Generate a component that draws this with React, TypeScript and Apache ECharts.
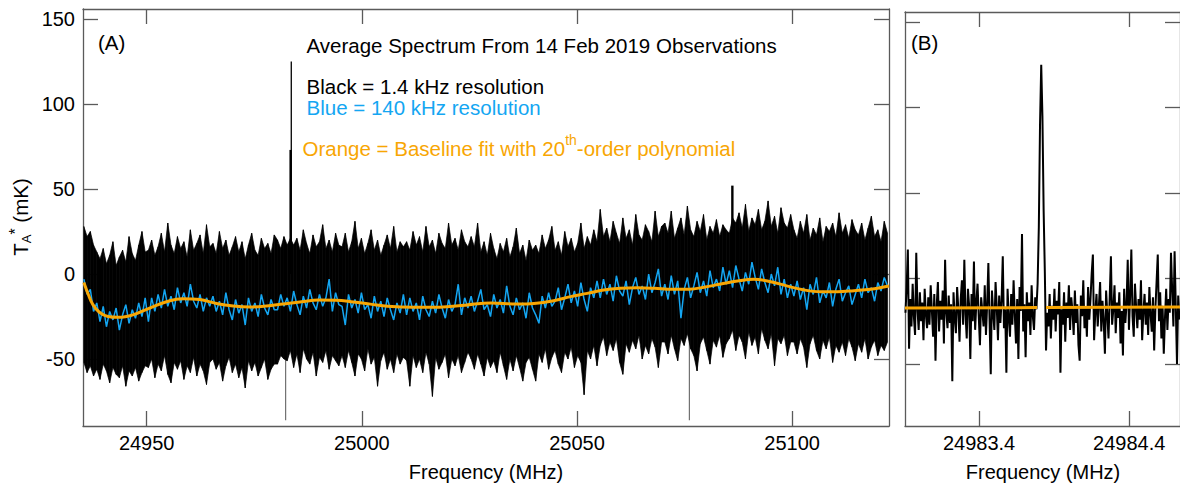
import React, { useEffect, useRef } from 'react';
import * as echarts from 'echarts';

const FONT = "'Liberation Sans', Arial, Helvetica, sans-serif";
const BLUE = '#14a6f2';
const ORANGE = '#f8a603';
const FRAME = '#5a5a5a';

// ---- Panel A: frequency grid of the binned spectrum (MHz)
const gridStart = 24935.4;
const gridStep = 0.75;

// Black (1.4 kHz) spectrum: max / min per bin (mK), noise only
const blackHigh = [
  28, 22, 25, 17, 13, 9, 15, 6, 11, 19, 5, 10, 14, 7, 22, 12, 8, 17, 25, 13,
  14, 20, 11, 16, 24, 13, 30, 17, 12, 22, 15, 19, 10, 26, 14, 18, 23, 12, 29, 16,
  18, 12, 25, 15, 20, 11, 16, 22, 13, 19, 9, 17, 24, 14, 11, 21, 15, 18, 12, 23,
  20, 15, 22, 17, 21, 17, 21, 14, 26, 18, 12, 23, 16, 19, 29, 15, 20, 13, 24, 17,
  16, 24, 13, 19, 31, 15, 21, 12, 18, 26, 14, 20, 11, 17, 23, 15, 28, 13, 19, 16,
  19, 14, 25, 17, 22, 13, 28, 16, 20, 12, 24, 18, 15, 30, 17, 21, 14, 26, 19, 16,
  22, 16, 30, 13, 19, 11, 24, 15, 9, 18, 13, 21, 10, 16, 27, 12, 17, 8, 20, 14,
  17, 12, 23, 15, 20, 28, 14, 19, 11, 25, 16, 21, 13, 18, 30, 15, 22, 17, 26, 19,
  38, 22, 27, 19, 31, 24, 18, 33, 21, 26, 17, 35, 23, 20, 29, 25, 19, 37, 22, 28,
  30, 24, 37, 21, 27, 33, 23, 40, 26, 22, 31, 25, 35, 20, 28, 24, 32, 22, 29, 26,
  24, 33, 30, 36, 27, 41, 25, 33, 29, 38, 26, 31, 43, 28, 34, 24, 39, 30, 27, 35,
  26, 21, 31, 24, 35, 20, 27, 23, 33, 19, 28, 25, 30, 22, 36, 24, 29, 21, 32, 26,
  23, 30, 20, 27, 34, 22, 26, 19, 31, 24,
];
const blackLow = [
  -52, -58, -54, -60, -56, -62, -53, -57, -64, -55, -59, -61, -54, -66, -57, -60, -55, -63, -58, -54,
  -55, -50, -61, -53, -57, -48, -59, -64, -52, -56, -51, -62, -54, -58, -49, -60, -53, -57, -65, -52,
  -50, -56, -52, -63, -54, -49, -58, -53, -61, -55, -67, -51, -57, -52, -60, -55, -50, -62, -56, -53,
  -53, -48, -50, -51, -45, -55, -47, -58, -44, -50, -53, -46, -60, -49, -52, -45, -56, -48, -51, -54,
  -48, -55, -45, -52, -60, -47, -50, -57, -44, -53, -49, -66, -51, -46, -56, -50, -58, -47, -53, -49,
  -51, -66, -48, -55, -50, -58, -46, -53, -72, -49, -56, -52, -47, -61, -50, -54, -48, -58, -52, -46,
  -50, -56, -47, -53, -60, -49, -55, -51, -58, -46, -54, -62, -50, -57, -48, -55, -63, -52, -49, -56,
  -63, -47, -52, -44, -56, -49, -45, -53, -58, -46, -50, -43, -55, -48, -52, -71, -45, -50, -42, -54,
  -42, -37, -48, -40, -45, -38, -52, -59, -41, -46, -39, -44, -36, -50, -42, -47, -38, -43, -55, -40,
  -40, -47, -36, -44, -51, -38, -42, -35, -44, -48, -57, -41, -37, -45, -53, -39, -43, -36, -49, -41,
  -38, -33, -45, -36, -40, -50, -34, -42, -37, -47, -32, -39, -44, -35, -54, -38, -41, -36, -48, -40,
  -40, -47, -38, -43, -55, -41, -36, -45, -50, -39, -44, -37, -52, -42, -46, -40, -48, -38, -43, -51,
  -41, -46, -38, -50, -43, -39, -48, -42, -45, -40,
];
// Single-channel features of the black spectrum (MHz, mK)
const spikeFreq = [24982.3, 24983.45, 24983.6, 25076.1, 25086.1];
const spikeVal = [-86, 73, 125, -86, 52];

// Blue (140 kHz) spectrum (mK)
const blue140k = [
  -3, -12, -9, -22, -17, -28, -19, -31, -22, -27, -20, -33, -24, -18, -29, -21, -26, -17, -25, -14,
  -28, -14, -22, -12, -20, -9, -19, -13, -21, -8, -17, -11, -19, -6, -16, -20, -12, -22, -14, -19,
  -13, -22, -16, -24, -11, -21, -27, -15, -23, -18, -30, -14, -22, -17, -25, -12, -20, -24, -15, -21,
  -21, -12, -19, -14, -22, -10, -18, -24, -13, -20, -9, -17, -21, -12, -19, -14, -3, -22, -11, -18,
  -19, -30, -12, -20, -15, -23, -11, -21, -18, -26, -13, -22, -16, -25, -14, -21, -27, -17, -23, -12,
  -24, -14, -22, -17, -27, -13, -21, -25, -16, -23, -12, -20, -26, -15, -22, -18, -6, -24, -14, -20,
  -13, -22, -16, -9, -21, -18, -25, -12, -20, -15, -23, -7, -19, -24, -14, -21, -17, -26, -11, -20,
  -24, -29, -13, -20, -11, -19, -16, -8, -21, -14, -6, -17, -10, -19, -5, -15, -22, -8, -14, -4,
  -14, -3, -12, -6, -16, -1, -10, -13, -4, -18, -8, -2, -12, -7, -15, 0, -11, -5, 3, -13,
  -6, -15, -1, -12, -4, -26, -9, -2, -14, -7, 1, -11, -4, -13, 2, -8, -3, -10, 4, -6,
  2, -8, 5, -3, -10, 1, -6, 7, -2, -9, 3, -5, -11, 0, -7, 4, -12, -3, -14, -6,
  -13, -4, -15, -8, -21, -6, -12, -2, -17, -10, -14, -5, -19, -9, -3, -16, -11, -7, -18, -12,
  -6, -14, -3, -11, -8, -16, -5, -10, -2, -7,
];
// Orange baseline fit (20th-order polynomial)
const orangeFreq = [
  24935.4, 24936.5, 24937.5, 24939.0, 24941.0, 24943.5, 24946.8, 24950.7, 24954.6, 24958.4,
  24962.3, 24966.2, 24970.1, 24973.9, 24977.8, 24981.7, 24986, 24990, 24994, 24998,
  25002, 25006, 25012, 25018, 25024, 25030, 25036, 25040, 25044.6, 25048.5,
  25052.4, 25056.2, 25060.1, 25064, 25068, 25072, 25076, 25079.5, 25083.4, 25087.3,
  25091.1, 25095, 25098.9, 25102.8, 25106.6, 25110.5, 25114.4, 25118.2, 25122.5,
];
const orangeVal = [
  -5, -12.5, -18, -22.5, -25, -25.5, -24, -20, -16.3, -14.5,
  -15, -17.3, -18.8, -19.4, -18.8, -17.6, -16.3, -15.3, -15.4, -16.4,
  -17.7, -19, -19.6, -19.5, -18.3, -17, -17.6, -17.3, -15.7, -13.3,
  -11.4, -9.4, -8.4, -8.1, -8.4, -9, -8.9, -7.8, -5.9, -4.1,
  -3.1, -4.5, -7.1, -9.4, -10.4, -10.4, -9.8, -9, -7,
];

// ---- Panel B: zoom on the line (1.4 kHz channels)
const bStart = 24982.91;
const bStep = 0.008;
const bBlack = [
  -20, -5, 17, -41, -12, -28, -3, -22, -33, 15, -18, -30, -8, -25, -14, -36, -6, -21, -29, -11,
  -27, -4, -19, -34, -9, -48, -16, -2, -31, -13, -24, -7, -38, 11, -20, -29, -10, -26, -15, -60,
  -8, -23, -32, -5, -18, -37, -12, -1, -27, 11, -21, -35, -6, -16, -47, -9, -25, 10, -30, -14,
  -3, -22, -39, -11, -19, -28, -4, -33, -15, 9, -24, -56, -7, -20, -30, -2, -17, -36, -10, -26,
  -13, 13, -29, -18, -55, -6, -23, -34, -9, -27, -1, -21, -38, -12, -47, -5, -19, 26, -31, -15,
  -46, -8, -25, -14, -33, -4, -22, -30, -11, -18, -3, 30, 90, 125, 95, 40, 4, -42, -20, -28,
  -9, -35, -16, -24, -6, -31, -13, -21, -2, -55, -18, -27, -8, -37, -14, -23, -4, -30, -11, -19,
  -33, -7, -26, -15, -39, -48, -10, -22, -1, -29, -17, -34, -5, -24, -12, 3, 14, -36, -20, -9,
  -28, -16, -2, -31, -13, -25, -44, -7, -21, -35, -11, 13, -27, -18, -4, -32, -14, -23, -8, -38,
  -19, -45, -6, -26, -15, 11, -30, -10, 17, -22, -34, -3, -17, -29, -12, -24, -1, -36, -20, -9,
  -27, -14, -33, -5, -21, -31, -11, -42, -18, -2, 14, -25, -8, -35, -16, -44, -23, -6, -30, -12,
  -20, 15, -7, -28, 16, -17, -50, -10, -24,
];
const bOrangeFreq = [24982.907, 24983.787, 24983.815, 24983.846, 24984.74];
const bOrangeVal: (number | string)[] = [-17.2, -17.0, '-', -16.9, -16.6];

// ---- Axis ticks
const aTicksX = [24950, 25000, 25050, 25100];
const bTicksX = [24983.4, 24984.4];
const ticksY = [-50, 0, 50, 100, 150];

const A_X = [24935.2, 25122.5];
const A_Y = [-89.4, 155.9];
const B_X = [24982.907, 24984.738];
const B_Y = [-86.2, 155.8];

function mkX(gridIndex: number, ext: number[], ticks: number[], position: string, labels: boolean) {
  return {
    type: 'value', gridIndex, position, min: ext[0], max: ext[1],
    axisLine: { show: true, onZero: false, lineStyle: { color: FRAME, width: 1.3 } },
    axisTick: { show: true, inside: true, length: 15, customValues: ticks, lineStyle: { color: FRAME, width: 1.3 } },
    axisLabel: {
      show: labels, customValues: ticks, formatter: (v: number) => String(v),
      fontSize: 20, fontFamily: FONT, color: '#000', margin: 7,
    },
    splitLine: { show: false },
  };
}
function mkY(gridIndex: number, ext: number[], position: string, labels: boolean) {
  return {
    type: 'value', gridIndex, position, min: ext[0], max: ext[1],
    axisLine: { show: true, onZero: false, lineStyle: { color: FRAME, width: 1.3 } },
    axisTick: { show: true, inside: true, length: 15, customValues: ticksY, lineStyle: { color: FRAME, width: 1.3 } },
    axisLabel: {
      show: labels, customValues: ticksY, formatter: (v: number) => String(v),
      fontSize: 20, fontFamily: FONT, color: '#000', margin: 8,
    },
    splitLine: { show: false },
  };
}

export default function App() {
  const ref = useRef<HTMLDivElement>(null);
  useEffect(() => {
    if (!ref.current) return;
    const chart = echarts.init(ref.current, undefined, { renderer: 'svg' });

    // band segments between consecutive bins: [f_i, hi_i, lo_i, f_i+1, hi_i+1, lo_i+1]
    const bandItems = blackHigh.slice(0, -1).map((h, i) => [
      gridStart + i * gridStep, h, blackLow[i],
      gridStart + (i + 1) * gridStep, blackHigh[i + 1], blackLow[i + 1],
    ]);
    const spikeItems = spikeFreq.map((f, i) => [f, spikeVal[i]]);
    const blueData = blue140k.map((v, i) => [gridStart + i * gridStep, v]);
    const orangeData = orangeFreq.map((f, i) => [f, orangeVal[i]]);
    const bBlackData = bBlack.map((v, i) => [bStart + i * bStep, v]);
    const bOrangeData = bOrangeFreq.map((f, i) => [f, bOrangeVal[i]]);

    const annot = (x: number, y: number, text: string, fill = '#000') => ({
      type: 'text', x, y, silent: true,
      style: { text, fill, fontSize: 20.5, lineHeight: 19, fontFamily: FONT, align: 'left', verticalAlign: 'middle' },
    });

    chart.setOption({
      animation: false,
      backgroundColor: '#fff',
      grid: [
        { left: 83, top: 9, width: 806, height: 417 },
        { left: 905, top: 12, width: 276, height: 414 },
      ],
      xAxis: [
        mkX(0, A_X, aTicksX, 'bottom', true),
        mkX(0, A_X, aTicksX, 'top', false),
        mkX(1, B_X, bTicksX, 'bottom', true),
        mkX(1, B_X, bTicksX, 'top', false),
      ],
      yAxis: [
        mkY(0, A_Y, 'left', true),
        mkY(0, A_Y, 'right', false),
        mkY(1, B_Y, 'left', false),
        mkY(1, B_Y, 'right', false),
      ],
      series: [
        {
          type: 'custom', xAxisIndex: 0, yAxisIndex: 0, data: spikeItems, silent: true, clip: true,
          encode: { x: 0, y: 1 },
          renderItem: (params: any, api: any) => {
            const v = api.value(1);
            const tip = api.coord([api.value(0), v]);
            const base = api.coord([api.value(0), 0]);
            const w = v < 0 ? 1 : v > 100 ? 1.3 : 2.4;
            return {
              type: 'rect',
              shape: { x: tip[0] - w / 2, y: Math.min(tip[1], base[1]), width: w, height: Math.abs(base[1] - tip[1]) },
              style: { fill: v < 0 ? '#555' : '#000' },
            };
          },
        },
        {
          type: 'custom', xAxisIndex: 0, yAxisIndex: 0, data: bandItems, silent: true, clip: true,
          encode: { x: [0, 3], y: [1, 2, 4, 5] },
          renderItem: (params: any, api: any) => {
            const p1 = api.coord([api.value(0), api.value(1)]);
            const p2 = api.coord([api.value(3), api.value(4)]);
            const p3 = api.coord([api.value(3), api.value(5)]);
            const p4 = api.coord([api.value(0), api.value(2)]);
            return {
              type: 'polygon',
              shape: { points: [p1, p2, p3, p4] },
              style: { fill: '#000', stroke: '#000', lineWidth: 0.7, lineJoin: 'bevel' },
            };
          },
        },
        {
          type: 'line', xAxisIndex: 0, yAxisIndex: 0, data: blueData, symbol: 'none', silent: true,
          lineStyle: { color: BLUE, width: 1.5 },
        },
        {
          type: 'line', xAxisIndex: 0, yAxisIndex: 0, data: orangeData, symbol: 'none', silent: true,
          smooth: 0.4, lineStyle: { color: ORANGE, width: 3 },
        },
        {
          type: 'line', xAxisIndex: 2, yAxisIndex: 2, data: bBlackData, symbol: 'none', silent: true,
          lineStyle: { color: '#000', width: 2 },
        },
        {
          type: 'line', xAxisIndex: 2, yAxisIndex: 2, data: bOrangeData, symbol: 'none', silent: true,
          lineStyle: { color: ORANGE, width: 3 },
        },
      ],
      graphic: [
        annot(98, 42, '(A)'),
        annot(911, 42, '(B)'),
        annot(306.5, 45, 'Average Spectrum From 14 Feb 2019 Observations'),
        annot(306.5, 86.5, 'Black = 1.4 kHz resolution'),
        annot(306.5, 107, 'Blue = 140 kHz resolution', BLUE),
        {
          type: 'text', x: 302.5, y: 148, silent: true,
          style: {
            text: '{o|Orange = Baseline fit with 20}{t|th}{o|-order polynomial}',
            fill: ORANGE, fontSize: 20.5, fontFamily: FONT, align: 'left', verticalAlign: 'middle',
            rich: {
              o: { fill: ORANGE, fontSize: 20.5, fontFamily: FONT, lineHeight: 30, verticalAlign: 'middle' },
              t: { fill: ORANGE, fontSize: 14, fontFamily: FONT, lineHeight: 14, verticalAlign: 'top' },
            },
          },
        },
        {
          type: 'text', x: 486, y: 472, silent: true,
          style: { text: 'Frequency (MHz)', fill: '#000', fontSize: 20, fontFamily: FONT, align: 'center', verticalAlign: 'middle' },
        },
        {
          type: 'text', x: 1043, y: 472, silent: true,
          style: { text: 'Frequency (MHz)', fill: '#000', fontSize: 20, fontFamily: FONT, align: 'center', verticalAlign: 'middle' },
        },
        {
          type: 'text', x: 20, y: 217, rotation: Math.PI / 2, silent: true,
          style: {
            text: '{m|T}{s|A}{p|*}{m| (mK)}',
            fill: '#000', fontSize: 20.5, fontFamily: FONT, align: 'center', verticalAlign: 'middle',
            rich: {
              m: { fill: '#000', fontSize: 20.5, fontFamily: FONT, lineHeight: 26, verticalAlign: 'middle' },
              s: { fill: '#000', fontSize: 13, fontFamily: FONT, lineHeight: 13, verticalAlign: 'bottom' },
              p: { fill: '#000', fontSize: 16, fontFamily: FONT, lineHeight: 16, verticalAlign: 'top' },
            },
          },
        },
      ],
    });
    return () => chart.dispose();
  }, []);
  return <div ref={ref} style={{ position: 'absolute', left: 0, top: 0, width: 1180, height: 483 }} />;
}
